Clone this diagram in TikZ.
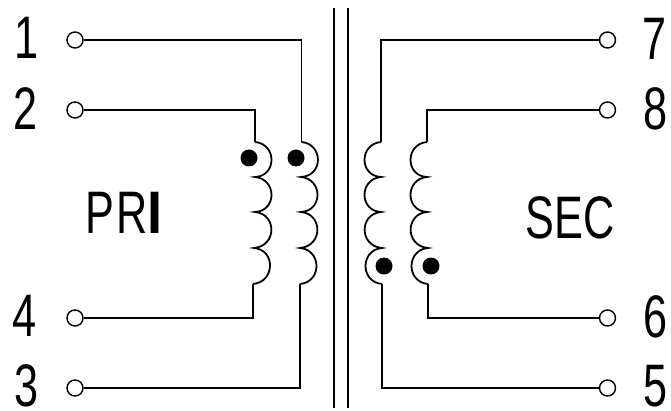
\documentclass[tikz,border=0pt]{standalone}
\usepackage{fontspec}
\newfontfamily\labfont[FakeStretch=0.72]{Liberation Sans}
\newfontfamily\worda[FakeStretch=0.72,LetterSpace=3]{Liberation Sans}
\newfontfamily\wordb[FakeStretch=0.9]{Liberation Sans}
\tikzset{
  wire/.style={line width=1.8pt,line join=miter},
  term/.style={circle,draw,line width=1.4pt,fill=white,minimum size=16pt,inner sep=0pt},
  lab/.style={font=\labfont\fontsize{60}{60}\selectfont,inner sep=0pt,text=black},
  spot/.style={circle,fill=black,minimum size=17pt,inner sep=0pt}
}
\newcommand{\coilpath}[6]{%
  \draw[wire] (#1,142) .. controls (#1+#6*22,144) and (#1+#6*22,176) .. (#2,177)
   .. controls (#2+#6*22,179) and (#2+#6*22,211) .. (#3,212)
   .. controls (#3+#6*22,214) and (#3+#6*22,246) .. (#4,248)
   .. controls (#4+#6*22,250) and (#5+#6*22,282) .. (#5,284);}
\begin{document}
\begin{tikzpicture}[x=1pt,y=-1pt]
\useasboundingbox (0,0) rectangle (671,411);
% core
\coordinate (c1a) at (334,8); \coordinate (c1b) at (334,408);
\coordinate (c2a) at (348,8); \coordinate (c2b) at (348,408);
\draw[wire] (c1a) -- (c1b);
\draw[wire] (c2a) -- (c2b);
% terminals
\node[term] (t1) at (75,40) {};
\node[term] (t2) at (75,110) {};
\node[term] (t4) at (75,318) {};
\node[term] (t3) at (75,388) {};
\node[term] (t7) at (607.5,40) {};
\node[term] (t8) at (607.5,110) {};
\node[term] (t6) at (607.5,318) {};
\node[term] (t5) at (607.5,388) {};
% winding ends
\coordinate (p2) at (255,142); \coordinate (p4) at (253,284);
\coordinate (p1) at (301.5,142); \coordinate (p3) at (300,284);
\coordinate (s7) at (381,142); \coordinate (s5) at (382,284);
\coordinate (s8) at (427,142); \coordinate (s6) at (428,284);
% leads
\draw[wire] (t1) -- (301.5,40) -- (p1);
\draw[wire] (t2) -- (255,110) -- (p2);
\draw[wire] (t4) -- (253,318) -- (p4);
\draw[wire] (t3) -- (300,388) -- (p3);
\draw[wire] (t7) -- (381,40) -- (s7);
\draw[wire] (t8) -- (427,110) -- (s8);
\draw[wire] (t6) -- (428,318) -- (s6);
\draw[wire] (t5) -- (382,388) -- (s5);
% windings
\coilpath{255}{255}{255}{254}{253}{1}
\coilpath{301.5}{301}{301}{300}{300}{1}
\coilpath{381}{381}{381}{382}{382}{-1}
\coilpath{427}{427}{427}{428}{428}{-1}
% dots
\node[spot] (d1) at (249,158) {};
\node[spot] (d2) at (296,158) {};
\node[spot] (d3) at (384,266) {};
\node[spot] (d4) at (431,266) {};
% labels
\node[lab] (l1) at (27,38) {1};
\node[lab] (l2) at (26,109) {2};
\node[lab] (l4) at (25,316) {4};
\node[lab] (l3) at (26.5,386) {3};
\node[lab] (l7) at (655,38.5) {7};
\node[lab] (l8) at (656,108.5) {8};
\node[lab] (l6) at (656,316.5) {6};
\node[lab] (l5) at (656,386) {5};
\node[lab] (pri) at (124,212.5) {{\worda PR}{\wordb\bfseries I}};
\node[lab] (sec) at (570,218) {SEC};
\end{tikzpicture}
\end{document}
